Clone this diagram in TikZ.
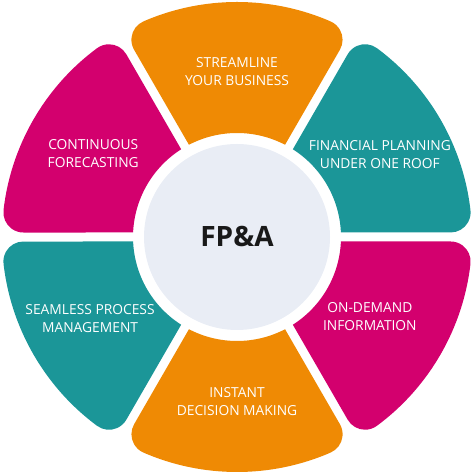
\documentclass[tikz,border=0pt]{standalone}
\usepackage{fontspec}
\setmainfont{Open Sans}
\definecolor{fpaorange}{HTML}{EF8A04}
\definecolor{fpateal}{HTML}{1B9698}
\definecolor{fpamagenta}{HTML}{D3006E}
\definecolor{fpacentre}{HTML}{E9EDF5}
\tikzset{
    petal text/.style = {text=white, align=center, font=\fontsize{6.9}{9}\selectfont},
    hub/.style = {circle, fill=fpacentre, inner sep=0pt, minimum size=93pt,
                  text=black!90, font=\fontsize{14}{16}\selectfont\bfseries}
}

\begin{document}
\begin{tikzpicture}[x=0.5pt,y=0.5pt]
        \useasboundingbox (-237,-237) rectangle (237,237);
        % six petals, each one drawn pointing up and then turned
        \foreach \A/\C in {90/fpaorange,30/fpateal,-30/fpamagenta,-90/fpaorange,-150/fpateal,150/fpamagenta}
            {\fill[\C,rotate=\A-90] (62.48:104) -- (61.21:213.65)
                arc[start angle=-30,end angle=66.54,radius=20]
                arc[start angle=66.54,end angle=113.46,radius=235]
                arc[start angle=113.46,end angle=210,radius=20]
                -- (117.52:104) arc[start angle=117.52,end angle=62.48,radius=104] -- cycle;}
        \node[hub] (fpa) at (0,0) {FP\&A};
        \node[petal text] (streamline) at (90:165) {STREAMLINE\\YOUR BUSINESS};
        \node[petal text] (planning) at (30:165) {FINANCIAL PLANNING\\UNDER ONE ROOF};
        \node[petal text] (ondemand) at (-31:155) {ON-DEMAND\\INFORMATION};
        \node[petal text] (instant) at (-90:165) {INSTANT\\DECISION MAKING};
        \node[petal text] (seamless) at (-151:168) {SEAMLESS PROCESS\\MANAGEMENT};
        \node[petal text] (continuous) at (150:166) {CONTINUOUS\\FORECASTING};
\end{tikzpicture}
\end{document}
